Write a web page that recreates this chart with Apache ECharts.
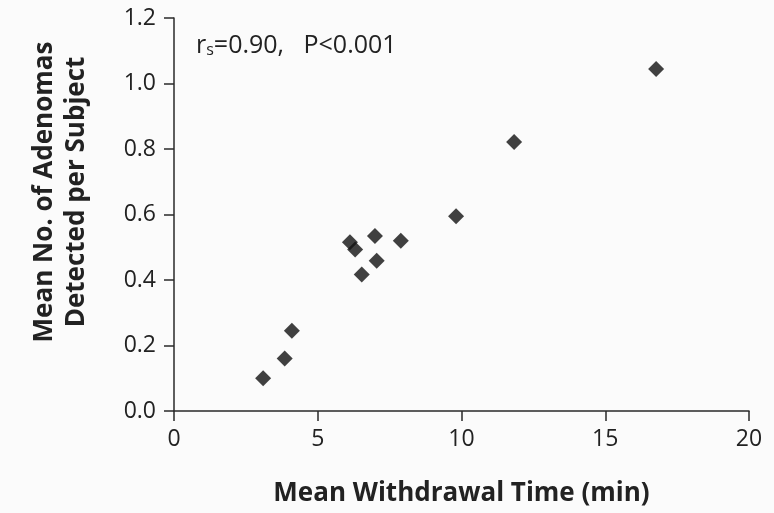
<!DOCTYPE html>
<html><head><meta charset="utf-8">
<script src="https://cdn.jsdelivr.net/npm/echarts@6/dist/echarts.min.js"></script>
<style>html,body{margin:0;padding:0;background:#fbfbfb}#c{width:774px;height:513px}</style>
</head><body><div id="c"></div>
<script>
const withdrawalTime = [3.1, 3.85, 4.1, 6.12, 6.3, 6.99, 7.89, 7.05, 6.53, 9.81, 11.83, 16.77];
const adenomasPerSubject = [0.10, 0.16, 0.245, 0.515, 0.493, 0.534, 0.52, 0.459, 0.417, 0.595, 0.821, 1.044];
const xTicks = [0, 5, 10, 15, 20];
const yTicks = [0.0, 0.2, 0.4, 0.6, 0.8, 1.0, 1.2];
const xTitle = 'Mean Withdrawal Time (min)';
const yTitle = 'Mean No. of Adenomas\nDetected per Subject';

const font = '"Open Sans", "DejaVu Sans", sans-serif';
const chart = echarts.init(document.getElementById('c'), null, {renderer: 'canvas'});
const axisLine = {show: true, lineStyle: {color: '#2a2a2a', width: 1.5}};
const tick = {show: true, length: 10, lineStyle: {color: '#2a2a2a', width: 1.5}};
chart.setOption({
  backgroundColor: '#fbfbfb',
  animation: false,
  grid: {left: 174, right: 25, top: 18, bottom: 102, containLabel: false},
  xAxis: {
    type: 'value', min: xTicks[0], max: xTicks[xTicks.length - 1], interval: 5,
    axisLine: axisLine, axisTick: tick,
    axisLabel: {color: '#222', fontSize: 23, fontFamily: font, margin: 17},
    splitLine: {show: false},
    name: xTitle, nameLocation: 'middle', nameGap: 70,
    nameTextStyle: {color: '#222', fontSize: 26, fontWeight: 'bold', fontFamily: font}
  },
  yAxis: {
    type: 'value', min: yTicks[0], max: yTicks[yTicks.length - 1], interval: 0.2,
    axisLine: axisLine, axisTick: tick,
    axisLabel: {color: '#222', fontSize: 23, fontFamily: font, margin: 18,
      formatter: v => v.toFixed(1)},
    splitLine: {show: false}
  },
  graphic: [
    {type: 'text', x: 61, y: 192, rotation: Math.PI / 2,
      style: {text: yTitle, fill: '#222', font: 'bold 26px ' + font, lineHeight: 32,
        align: 'center', verticalAlign: 'middle'}},
    {type: 'text', left: 196, top: 33,
      style: {text: '{r|r}{s|s}{r|=0.90,   P<0.001}', fill: '#222',
        rich: {r: {fontSize: 25, fontFamily: font, fill: '#222', verticalAlign: 'bottom'},
               s: {fontSize: 16, fontFamily: font, fill: '#222', padding: [16, 0, 0, 0]}}}}
  ],
  series: [{
    type: 'scatter', symbol: 'diamond', symbolSize: 16,
    itemStyle: {color: '#111'},
    data: withdrawalTime.map((x, i) => [x, adenomasPerSubject[i]])
  }]
});
</script></body></html>
